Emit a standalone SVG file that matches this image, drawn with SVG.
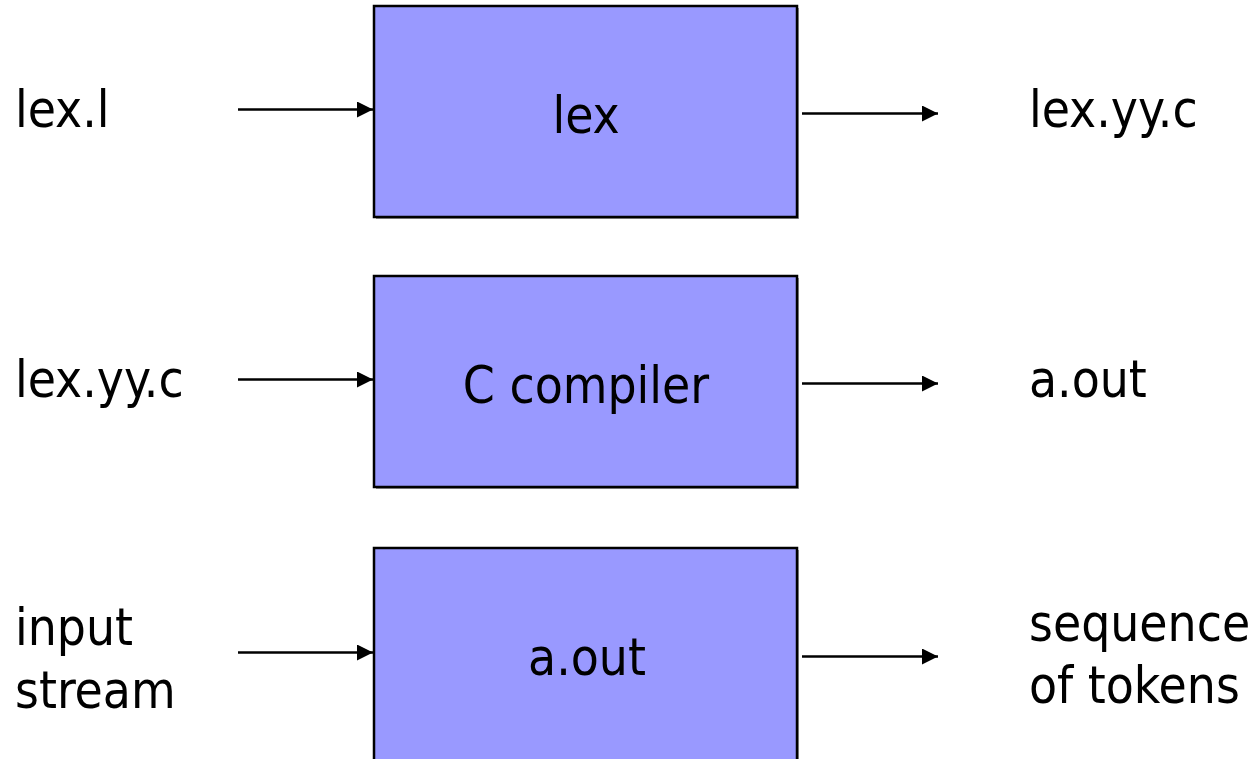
<svg xmlns="http://www.w3.org/2000/svg" width="1257" height="759" viewBox="0 0 1257 759">
<defs>
<style>
.box{fill:#9999FF;stroke:#000;stroke-width:2.5}
.sh{fill:#999;}
.t{font-family:"DejaVu Sans Condensed","Open Sans",sans-serif;font-size:51px;fill:#000}
.c{text-anchor:middle}
.ln{stroke:#000;stroke-width:2.3;fill:none;marker-end:url(#ah)}
</style>
<marker id="ah" markerUnits="userSpaceOnUse" markerWidth="17" markerHeight="17" refX="16" refY="8" orient="auto">
<path d="M0,0 L16,8 L0,16 Z" fill="#000"/>
</marker>
</defs>
<rect width="1257" height="759" fill="#fff"/>
<g id="node-lex">
<rect class="sh" x="376" y="8" width="423" height="211"/>
<rect class="box" x="374" y="6" width="423" height="211"/>
<text class="t c" x="586" y="133">lex</text>
</g>
<g id="node-cc">
<rect class="sh" x="376" y="278" width="423" height="211"/>
<rect class="box" x="374" y="276" width="423" height="211"/>
<text class="t c" x="586" y="403">C compiler</text>
</g>
<g id="node-aout">
<rect class="sh" x="376" y="550" width="423" height="230"/>
<rect class="box" x="374" y="548" width="423" height="230"/>
<text class="t c" x="587" y="675">a.out</text>
</g>
<g id="labels">
<text class="t" x="15" y="127">lex.l</text>
<text class="t" x="15" y="397">lex.yy.c</text>
<text class="t" x="15" y="645">input</text>
<text class="t" x="15" y="708">stream</text>
<text class="t" x="1029" y="127">lex.yy.c</text>
<text class="t" x="1029" y="397">a.out</text>
<text class="t" x="1029" y="641">sequence</text>
<text class="t" x="1029" y="703">of tokens</text>
</g>
<g id="connectors">
<line class="ln" x1="238" y1="109.5" x2="373" y2="109.5"/>
<line class="ln" x1="238" y1="379.5" x2="373" y2="379.5"/>
<line class="ln" x1="238" y1="652.5" x2="373" y2="652.5"/>
<line class="ln" x1="802" y1="113.5" x2="938" y2="113.5"/>
<line class="ln" x1="802" y1="383.5" x2="938" y2="383.5"/>
<line class="ln" x1="802" y1="656.5" x2="938" y2="656.5"/>
</g>
</svg>
